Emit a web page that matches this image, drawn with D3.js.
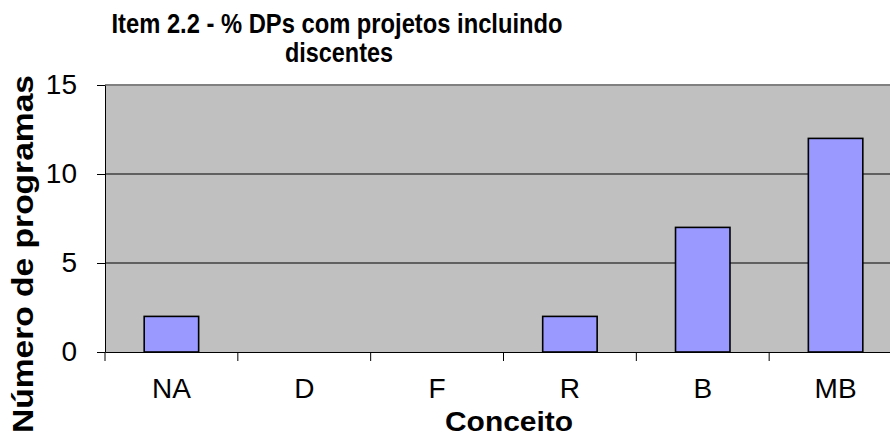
<!DOCTYPE html>
<html>
<head>
<meta charset="utf-8">
<script src="https://cdn.jsdelivr.net/npm/d3@7"></script>
<style>
  body { margin: 0; background: #fff; }
  svg { display: block; font-family: Arial, "Liberation Sans", sans-serif; }
</style>
</head>
<body>
<svg width="890" height="436"></svg>
<script>
const categories = ["NA", "D", "F", "R", "B", "MB"];
const values = [2, 0, 0, 2, 7, 12];
const yTicks = [0, 5, 10, 15];

const svg = d3.select("svg");
const plot = { left: 105, right: 902, top: 85, bottom: 352 };

const x = d3.scaleBand().domain(categories).range([plot.left, plot.right]).paddingInner(0.59).paddingOuter(0.295);
const xb = d3.scaleBand().domain(categories).range([plot.left, plot.right]);
const y = d3.scaleLinear().domain([0, 15]).range([plot.bottom, plot.top]);

// plot background
svg.append("rect")
    .attr("x", plot.left).attr("y", plot.top)
    .attr("width", plot.right - plot.left).attr("height", plot.bottom - plot.top)
    .attr("fill", "#c0c0c0");

// gridlines
svg.append("g").selectAll("line")
    .data(yTicks.filter(d => d > 0 && d < 15))
    .join("line")
    .attr("x1", plot.left).attr("x2", plot.right)
    .attr("y1", d => y(d)).attr("y2", d => y(d))
    .attr("stroke", "#000").attr("stroke-width", 1);

// top border
svg.append("line")
    .attr("x1", plot.left).attr("x2", plot.right)
    .attr("y1", plot.top).attr("y2", plot.top)
    .attr("stroke", "#808080").attr("stroke-width", 2);

// bars
svg.append("g").selectAll("rect")
    .data(categories.map((c, i) => ({ name: c, value: values[i] })).filter(d => d.value > 0))
    .join("rect")
    .attr("x", d => x(d.name))
    .attr("y", d => y(d.value))
    .attr("width", x.bandwidth())
    .attr("height", d => y(0) - y(d.value))
    .attr("fill", "#9999ff")
    .attr("stroke", "#000")
    .attr("stroke-width", 1.6);

// y axis
const yAxis = svg.append("g")
    .attr("transform", `translate(${plot.left},0)`)
    .call(d3.axisLeft(y).tickValues(yTicks).tickSize(8).tickPadding(20).tickSizeOuter(0));
yAxis.select(".domain").attr("stroke", "#000");
yAxis.selectAll("text").attr("font-size", 28).attr("fill", "#000")
    .attr("font-family", "Arial, 'Liberation Sans', sans-serif");

// x axis
const xAxis = svg.append("g")
    .attr("transform", `translate(0,${plot.bottom})`)
    .call(d3.axisBottom(xb).tickSize(0).tickPadding(0).tickSizeOuter(0));
xAxis.select(".domain").attr("stroke", "#000");
xAxis.selectAll(".tick text")
    .attr("y", 46).attr("dy", 0)
    .attr("font-size", 28).attr("fill", "#000")
    .attr("font-family", "Arial, 'Liberation Sans', sans-serif");
// tick marks at band boundaries
svg.append("g").selectAll("line")
    .data(categories)
    .join("line")
    .attr("x1", d => xb(d)).attr("x2", d => xb(d))
    .attr("y1", plot.bottom).attr("y2", plot.bottom + 9)
    .attr("stroke", "#000");

// titles
svg.append("text")
    .attr("x", 337).attr("y", 33)
    .attr("text-anchor", "middle")
    .attr("font-size", 27).attr("font-weight", "bold")
    .attr("textLength", 451).attr("lengthAdjust", "spacingAndGlyphs")
    .text("Item 2.2 - % DPs com projetos incluindo");
svg.append("text")
    .attr("x", 339).attr("y", 62)
    .attr("text-anchor", "middle")
    .attr("font-size", 27).attr("font-weight", "bold")
    .attr("textLength", 108).attr("lengthAdjust", "spacingAndGlyphs")
    .text("discentes");

svg.append("text")
    .attr("x", 509).attr("y", 431)
    .attr("text-anchor", "middle")
    .attr("font-size", 27).attr("font-weight", "bold")
    .attr("textLength", 128).attr("lengthAdjust", "spacingAndGlyphs")
    .text("Conceito");

svg.append("text")
    .attr("transform", "translate(33,254) rotate(-90)")
    .attr("text-anchor", "middle")
    .attr("font-size", 29).attr("font-weight", "bold")
    .attr("textLength", 358).attr("lengthAdjust", "spacingAndGlyphs")
    .text("Número de programas");
</script>
</body>
</html>
